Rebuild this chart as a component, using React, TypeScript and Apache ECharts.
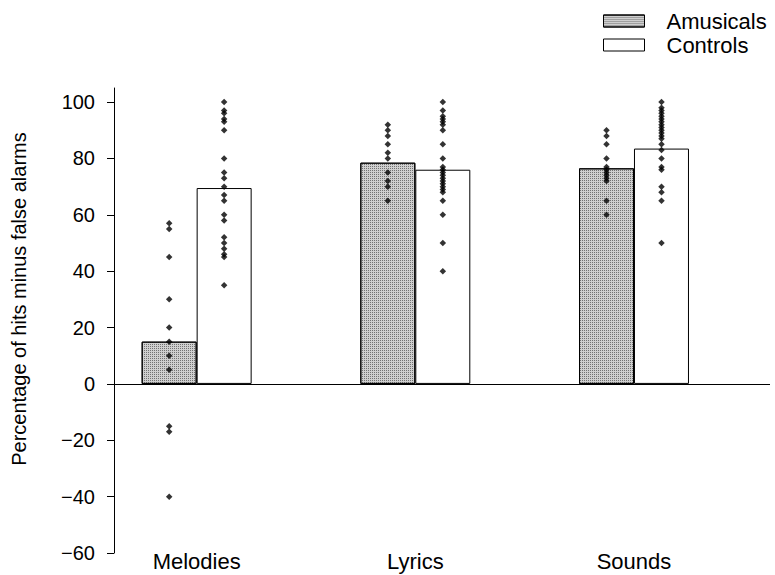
import React, { useEffect, useRef } from "react";
import * as echarts from "echarts";

const categories = ["Melodies", "Lyrics", "Sounds"];
const seriesNames = ["Amusicals", "Controls"];
const amusicalMeans = [15, 78.5, 76.5];
const controlMeans = [69.5, 76, 83.5];
const amusicalPoints = [
  [57, 55, 45, 30, 20, 15, 10, 5, -15, -17, -40],
  [92, 90, 88, 85, 82, 80, 75, 72, 70, 65],
  [90, 88, 85, 80, 77, 76, 75, 74, 73, 72, 65, 60],
];
const controlPoints = [
  [100, 97, 96, 94, 93, 90, 80, 75, 73, 70, 67, 65, 60, 58, 52, 50, 48, 46, 45, 35],
  [100, 97, 95, 94, 93, 92, 90, 85, 80, 77, 76, 75, 74, 73, 72, 71, 70, 69, 68, 65, 60, 50, 40],
  [100, 98, 97, 96, 95, 94, 93, 92, 91, 90, 89, 88, 87, 85, 83, 80, 77, 76, 70, 68, 65, 50],
];
const yTicks = { min: -60, max: 105, interval: 20 };
const yTitle = "Percentage of hits minus false alarms";

const FONT = "'Liberation Sans', Arial, Helvetica, sans-serif";
const OFFSET = 0.1257;

export default function App() {
  const ref = useRef<HTMLDivElement>(null);
  useEffect(() => {
    if (!ref.current) return;
    const chart = echarts.init(ref.current, null, { renderer: "svg" });
    const barA = amusicalMeans.map((v, i) => [i - OFFSET, v]);
    const barC = controlMeans.map((v, i) => [i + OFFSET, v]);
    const ptsA: number[][] = [];
    amusicalPoints.forEach((arr, i) => arr.forEach((v) => ptsA.push([i - OFFSET, v])));
    const ptsC: number[][] = [];
    controlPoints.forEach((arr, i) => arr.forEach((v) => ptsC.push([i + OFFSET, v])));

    chart.setOption({
      animation: false,
      textStyle: { fontFamily: FONT },
      grid: { left: 114, right: 5, top: 88, bottom: 22 },
      legend: {
        data: seriesNames,
        orient: "vertical",
        left: 603,
        top: 9,
        padding: 0,
        itemGap: 0,
        itemWidth: 41,
        itemHeight: 12,
        icon: "rect",
        itemStyle: { borderColor: "#000", borderWidth: 1 },
        textStyle: {
          fontSize: 22,
          color: "#000",
          fontFamily: FONT,
          lineHeight: 24,
          padding: [0, 0, 0, 17],
        },
      },
      graphic: [
        {
          type: "text",
          x: 19,
          y: 299,
          rotation: Math.PI / 2,
          style: {
            text: yTitle,
            fontSize: 20,
            fontFamily: FONT,
            fill: "#000",
            textAlign: "center",
            textVerticalAlign: "middle",
          },
        },
      ],
      xAxis: {
        type: "value",
        min: -0.378,
        max: 2.622,
        axisLine: { show: false, onZero: false },
        axisTick: { show: false },
        splitLine: { show: false },
        axisLabel: {
          customValues: [0, 1, 2],
          formatter: (v: number) => categories[Math.round(v)] ?? "",
          fontSize: 22,
          color: "#000",
          fontFamily: FONT,
          margin: -3,
        },
      },
      yAxis: {
        type: "value",
        min: yTicks.min,
        max: yTicks.max,
        interval: yTicks.interval,
        splitLine: { show: false },
        axisLine: { show: true, onZero: false, lineStyle: { color: "#000", width: 1 } },
        axisTick: { show: true, length: 7, lineStyle: { color: "#000" } },
        axisLabel: {
          fontSize: 20,
          color: "#000",
          fontFamily: FONT,
          margin: 19,
          showMaxLabel: false,
          formatter: (v: number) => (v > 100 ? "" : v < 0 ? "\u2212" + Math.abs(v) : String(v)),
        },
      },
      series: [
        {
          name: "Amusicals",
          type: "bar",
          data: barA,
          barWidth: 55,
          barGap: "-100%",
          itemStyle: {
            color: "#cfcfcf",
            borderColor: "#000",
            borderWidth: 1,
            decal: {
              symbol: "rect",
              symbolSize: 1,
              color: "rgba(0,0,0,0.45)",
              dashArrayX: [1, 1],
              dashArrayY: [1, 1],
              rotation: 0,
            },
          },
          markLine: {
            silent: true,
            symbol: "none",
            label: { show: false },
            lineStyle: { color: "#000", width: 1, type: "solid" },
            data: [{ yAxis: 0 }],
          },
        },
        {
          name: "Controls",
          type: "bar",
          data: barC,
          barWidth: 55,
          barGap: "-100%",
          itemStyle: { color: "#fff", borderColor: "#000", borderWidth: 1 },
        },
        {
          name: "Amusicals individuals",
          type: "scatter",
          data: ptsA,
          symbol: "diamond",
          symbolSize: 6.5,
          itemStyle: { color: "#000" },
          z: 5,
        },
        {
          name: "Controls individuals",
          type: "scatter",
          data: ptsC,
          symbol: "diamond",
          symbolSize: 6.5,
          itemStyle: { color: "#000" },
          z: 5,
        },
      ],
    });
    return () => chart.dispose();
  }, []);
  return (
    <div
      ref={ref}
      style={{ position: "absolute", left: 0, top: 0, width: 775, height: 575 }}
    />
  );
}
